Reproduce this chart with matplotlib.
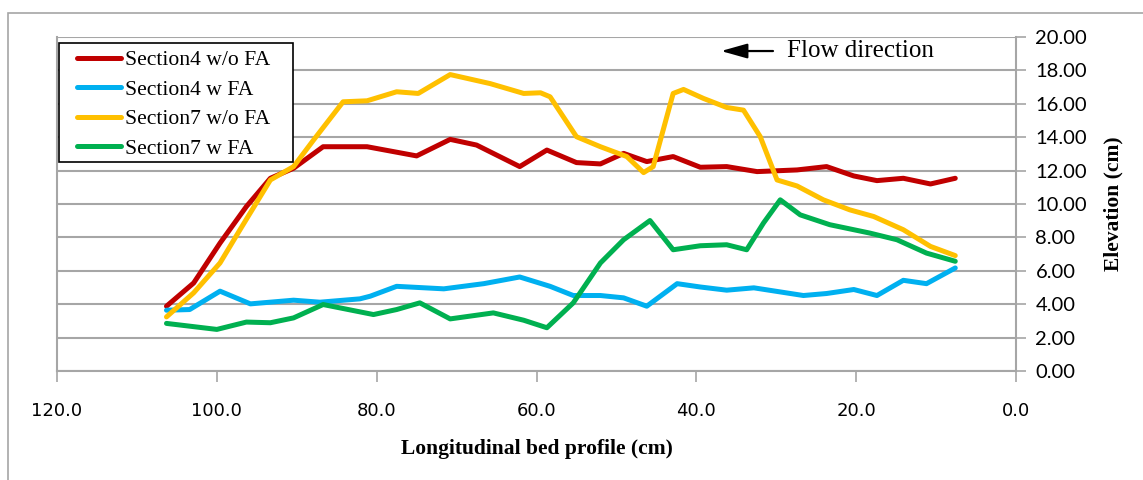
import matplotlib
matplotlib.use("Agg")
from matplotlib import pyplot as plt
from matplotlib.patches import Rectangle

# bed elevations (cm) read along the profile, x = longitudinal position (cm)
red_x = [106.3, 102.9, 99.6, 96.3, 93.3, 90.4, 86.7, 83.3, 81.2, 75.0, 70.8, 67.5, 62.1, 58.7,
         55.0, 52.0, 49.1, 46.2, 42.9, 39.5, 36.2, 32.4, 27.4, 23.7, 20.3, 17.4, 14.1, 10.7, 7.6]
red_y = [3.88, 5.27, 7.66, 9.85, 11.54, 12.14, 13.43, 13.43, 13.43, 12.88, 13.87, 13.53, 12.24, 13.23,
         12.48, 12.40, 13.03, 12.54, 12.84, 12.20, 12.24, 11.94, 12.04, 12.24, 11.68, 11.40, 11.54, 11.20, 11.54]

blue_x = [106.3, 103.4, 99.6, 95.8, 90.4, 87.1, 82.1, 80.8, 77.5, 71.6, 66.6, 62.1, 58.3,
          55.4, 52.0, 49.1, 46.2, 42.4, 39.5, 36.2, 32.8, 26.6, 23.7, 20.3, 17.4, 14.1, 11.2, 7.6]
blue_y = [3.64, 3.68, 4.78, 4.02, 4.24, 4.12, 4.32, 4.48, 5.07, 4.92, 5.23, 5.63, 5.07,
          4.52, 4.52, 4.38, 3.88, 5.23, 5.03, 4.84, 4.98, 4.52, 4.64, 4.88, 4.52, 5.43, 5.23, 6.17]

yellow_x = [106.3, 102.9, 99.6, 97.1, 93.3, 90.4, 87.9, 84.2, 81.2, 77.5, 74.8, 70.8, 65.8, 61.6, 59.5,
            58.3, 55.0, 52.0, 48.7, 46.6, 45.4, 42.9, 41.6, 39.1, 36.2, 34.1, 32.0, 29.9, 27.4,
            24.1, 20.8, 17.8, 14.1, 10.7, 7.6]
yellow_y = [3.24, 4.68, 6.47, 8.46, 11.44, 12.24, 13.83, 16.12, 16.18, 16.72, 16.62, 17.75, 17.21, 16.62, 16.66,
            16.42, 14.03, 13.43, 12.84, 11.88, 12.24, 16.62, 16.86, 16.32, 15.78, 15.62, 14.03, 11.44, 11.08,
            10.25, 9.65, 9.25, 8.46, 7.46, 6.91]

green_x = [106.3, 100.0, 96.3, 93.3, 90.4, 86.7, 80.4, 77.5, 74.6, 70.8, 65.4, 61.6, 58.7,
           55.4, 52.0, 49.1, 45.8, 42.9, 39.5, 36.2, 33.7, 31.6, 29.5, 27.0, 23.3, 18.3, 14.9, 11.2, 7.6]
green_y = [2.85, 2.49, 2.93, 2.89, 3.18, 3.98, 3.38, 3.68, 4.08, 3.12, 3.48, 3.04, 2.59,
           4.08, 6.47, 7.86, 9.01, 7.26, 7.50, 7.56, 7.26, 8.86, 10.25, 9.35, 8.76, 8.26, 7.86, 7.06, 6.57]

series_names = ["Section4 w/o FA", "Section4 w FA", "Section7 w/o FA", "Section7 w FA"]
x_ticks = [120, 100, 80, 60, 40, 20, 0]
y_ticks = [0, 2, 4, 6, 8, 10, 12, 14, 16, 18, 20]

serif = ["Liberation Serif", "DejaVu Serif"]
narrow = ["Liberation Sans Narrow", "DejaVu Sans"]
grid_col = "#a6a6a6"

fig = plt.figure(figsize=(11.43, 4.8), dpi=100)
# outer chart frame
fig.patches.append(Rectangle((8 / 1143, -0.1), 1.2, 1 - 13 / 480 + 0.1, transform=fig.transFigure,
                             fill=False, edgecolor=grid_col, linewidth=1.2))
ax = fig.add_axes([57 / 1143, 1 - 371 / 480, 959 / 1143, 334 / 480])

data = [(red_x, red_y, "#c00000"), (blue_x, blue_y, "#00b0f0"),
        (yellow_x, yellow_y, "#ffc000"), (green_x, green_y, "#00b050")]
for (xs, ys, c), name in zip(data, series_names):
    ax.plot(xs, ys, color=c, lw=3.6, label=name, solid_joinstyle="round", solid_capstyle="round")

ax.set_xlim(120, 0)
ax.set_ylim(0, 20)
ax.set_xticks(x_ticks)
ax.set_xticklabels(["%.1f" % v for v in x_ticks], family=narrow, fontsize=13)
ax.set_yticks(y_ticks)
ax.set_yticklabels(["%.2f" % v for v in y_ticks], family=["Lato", "DejaVu Sans"], fontsize=14.5)
ax.yaxis.tick_right()
ax.yaxis.set_label_position("right")
ax.tick_params(axis="y", length=7, width=1.2, color=grid_col, pad=7, direction="out")
ax.tick_params(axis="x", length=8, width=1.2, color=grid_col, pad=14, direction="out")
ax.grid(axis="y", color=grid_col, lw=1.5)
ax.set_axisbelow(True)
for side in ["left", "right", "bottom"]:
    ax.spines[side].set_color(grid_col)
    ax.spines[side].set_linewidth(1.5)
ax.spines["top"].set_visible(False)

ax.set_xlabel("Longitudinal bed profile (cm)", family=serif, fontweight="bold", fontsize=15.5, labelpad=14)
ax.set_ylabel("Elevation (cm)", family=serif, fontweight="bold", fontsize=15.5, labelpad=12)

# legend box drawn by hand so the padding matches the original
ax.add_patch(Rectangle((2 / 959, (371 - 162) / 334), 234 / 959, 119 / 334, transform=ax.transAxes,
                       facecolor="white", edgecolor="black", lw=1.2, zorder=4.5))
leg = ax.legend(loc="upper left", bbox_to_anchor=(20 / 959, (371 - 50) / 334),
                prop={"family": serif, "size": 15.6}, frameon=False,
                handlelength=2.03, handletextpad=0.2, labelspacing=0.43, borderpad=0, borderaxespad=0)

ax.annotate("", xy=(0.6924, 0.958), xytext=(0.7466, 0.958), xycoords="axes fraction",
            arrowprops=dict(arrowstyle="-|>,head_length=1.6,head_width=0.45", color="black", lw=1.6,
                            shrinkA=0, shrinkB=0))
ax.text(0.761, 0.958, "Flow direction", transform=ax.transAxes, family=serif, fontsize=18,
        va="center", ha="left")

fig.savefig("out.png", dpi=100)
